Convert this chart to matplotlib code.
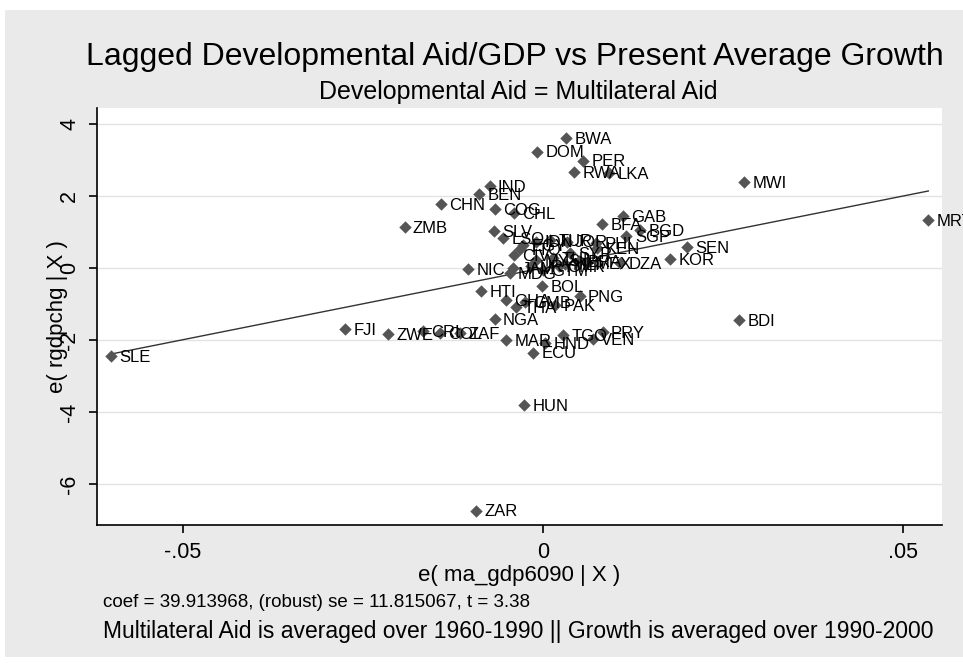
import numpy as np
import matplotlib
matplotlib.use('Agg')
import matplotlib.pyplot as plt
from matplotlib.patches import Rectangle

plt.rcParams['font.family'] = ['Liberation Sans', 'DejaVu Sans']

# residuals of the added-variable plot
countries = ['SLE', 'FJI', 'ZWE', 'CRI', 'COL', 'ZAF', 'ZMB', 'CHN', 'IND', 'BEN',
             'COG', 'CHL', 'SLV', 'DOM', 'BWA', 'PER', 'RWA', 'LKA', 'MWI', 'MRT',
             'BDI', 'GAB', 'BFA', 'BGD', 'SGP', 'SEN', 'KOR', 'DZA', 'PHL', 'NIC',
             'HTI', 'BOL', 'PNG', 'GHA', 'THA', 'GMB', 'PAK', 'NGA', 'MAR', 'ECU',
             'HND', 'TGO', 'VEN', 'PRY', 'HUN', 'ZAR', 'LSO', 'TTO', 'EGY', 'IDN',
             'TUR', 'JOR', 'KEN', 'SYR', 'MYS', 'TUN', 'MEX', 'JAM', 'MDG', 'URY',
             'GTM', 'CMR', 'MLI', 'CIV', 'BRA']
aid_resid = [-0.0599, -0.0275, -0.0215, -0.0167, -0.0143, -0.0115, -0.0192, -0.0142, -0.0074, -0.0089,
             -0.0067, -0.0040, -0.0068, -0.0008, 0.0032, 0.0056, 0.0043, 0.0092, 0.0279, 0.0535,
             0.0272, 0.0111, 0.0082, 0.0135, 0.0116, 0.0200, 0.0177, 0.0107, 0.0074, -0.0104,
             -0.0086, -0.0001, 0.0051, -0.0051, -0.0038, -0.0025, 0.0017, -0.0067, -0.0051, -0.0014,
             0.0003, 0.0028, 0.0069, 0.0083, -0.0026, -0.0093, -0.0055, -0.0032, -0.0027, -0.0009,
             0.0010, 0.0033, 0.0075, 0.0038, -0.0009, 0.0014, 0.0061, -0.0041, -0.0046, -0.0016,
             0.0000, 0.0022, 0.0030, -0.0040, 0.0050]
growth_resid = [-2.44, -1.69, -1.83, -1.75, -1.80, -1.80, 1.13, 1.78, 2.28, 2.06,
                1.63, 1.52, 1.03, 3.23, 3.60, 2.98, 2.65, 2.63, 2.38, 1.33,
                -1.46, 1.44, 1.22, 1.06, 0.875, 0.59, 0.24, 0.13, 0.69, -0.04,
                -0.64, -0.50, -0.79, -0.89, -1.09, -0.94, -1.03, -1.42, -2.00, -2.35,
                -2.09, -1.86, -1.98, -1.77, -3.81, -6.74, 0.83, 0.52, 0.64, 0.73,
                0.78, 0.73, 0.55, 0.41, 0.22, 0.27, 0.13, -0.01, -0.15, 0.04,
                -0.06, 0.05, 0.10, 0.35, 0.20]
coef = 39.913968

x = np.array(aid_resid)
y = np.array(growth_resid)

fig = plt.figure(figsize=(9.63, 6.64), dpi=100)
fig.patch.set_facecolor('white')
# grey graph region inside a thin white border
fig.patches.append(Rectangle((5 / 963, 1 - 657 / 664), 958 / 963, 647 / 664,
                             transform=fig.transFigure, facecolor='#eaeaea',
                             edgecolor='none', zorder=-1))

ax = fig.add_axes([97 / 963, 1 - 525 / 664, 845 / 963, 417 / 664])
ax.set_facecolor('white')

ax.scatter(x, y, marker='D', s=40, color='#555555', zorder=3, linewidths=0)
for name, xi, yi in zip(countries, x, y):
    ax.annotate(name, (xi, yi), xytext=(6, -1), textcoords='offset points',
                fontsize=12, va='center', ha='left', color='black',
                annotation_clip=False, zorder=4)

xs = np.array([x.min(), x.max()])
ax.plot(xs, coef * xs, color='#333333', lw=1, zorder=2)

ax.set_xlim(-0.0619, 0.0554)
ax.set_ylim(-7.14, 4.44)
ax.set_xticks([-0.05, 0, 0.05])
ax.set_xticklabels(['-.05', '0', '.05'])
ax.set_yticks([-6, -4, -2, 0, 2, 4])
ax.set_yticklabels(['-6', '-4', '-2', '0', '2', '4'], rotation=90, va='center')
ax.tick_params(axis='both', length=6, width=1.2, labelsize=15.5, pad=6)
ax.grid(axis='y', color='#e3e3e3', lw=1)
ax.set_axisbelow(True)
for side in ['top', 'right']:
    ax.spines[side].set_visible(False)
for side in ['left', 'bottom']:
    ax.spines[side].set_linewidth(1.2)

ax.set_xlabel('e( ma_gdp6090 | X )', fontsize=16, labelpad=2)
ax.set_ylabel('e( rgdpchg | X )', fontsize=16, labelpad=-6)

fig.text(0.535, 1 - 65 / 664, 'Lagged Developmental Aid/GDP vs Present Average Growth',
         fontsize=23, ha='center', va='baseline')
fig.text(0.538, 1 - 99 / 664, 'Developmental Aid = Multilateral Aid',
         fontsize=18, ha='center', va='baseline')
fig.text(103 / 963, 1 - 607 / 664, 'coef = 39.913968, (robust) se = 11.815067, t = 3.38',
         fontsize=13.5, ha='left', va='baseline')
fig.text(103 / 963, 1 - 638 / 664,
         'Multilateral Aid is averaged over 1960-1990 || Growth is averaged over 1990-2000',
         fontsize=16.5, ha='left', va='baseline')

fig.savefig('out.png', dpi=100, facecolor=fig.get_facecolor())
